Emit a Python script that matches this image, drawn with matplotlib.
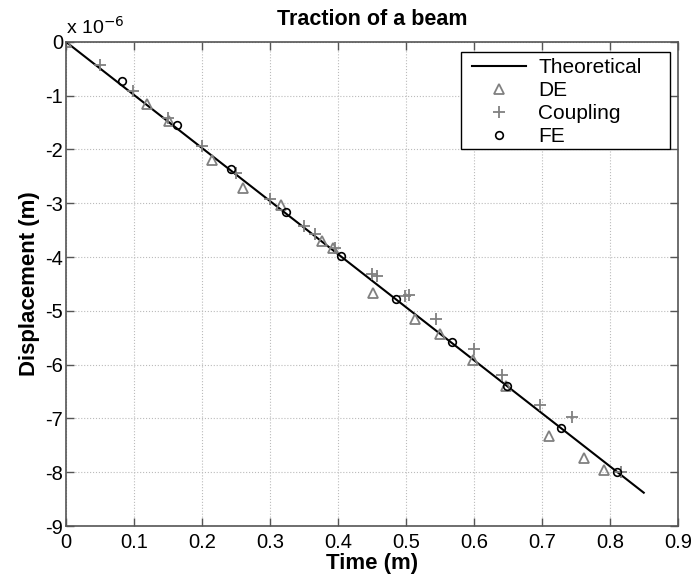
import numpy as np
import matplotlib.pyplot as plt
from matplotlib.patches import Rectangle

plt.rcParams['font.family'] = ['Liberation Sans', 'DejaVu Sans']
plt.rcParams['axes.unicode_minus'] = False

# Theoretical line (displacement in units of 1e-6 m)
theo_x = [0.0, 0.85]
theo_y = [0.0, -8.38]

# DE results
de_x = [0.0, 0.120, 0.152, 0.215, 0.260, 0.316, 0.377, 0.393, 0.452, 0.514,
        0.551, 0.599, 0.648, 0.711, 0.762, 0.792]
de_y = [0.0, -1.16, -1.48, -2.20, -2.71, -3.04, -3.71, -3.83, -4.66, -5.15,
        -5.44, -5.91, -6.39, -7.32, -7.74, -7.95]

# Coupling results
cp_x = [0.050, 0.099, 0.150, 0.200, 0.251, 0.301, 0.350, 0.366, 0.396,
        0.450, 0.457, 0.499, 0.505, 0.545, 0.601, 0.641, 0.697, 0.744, 0.817]
cp_y = [-0.43, -0.92, -1.42, -1.93, -2.43, -2.92, -3.43, -3.57, -3.83,
        -4.31, -4.36, -4.73, -4.70, -5.15, -5.71, -6.20, -6.75, -6.98, -8.00]

# FE results
fe_x = [0.082, 0.163, 0.243, 0.324, 0.404, 0.486, 0.568, 0.649, 0.729, 0.811]
fe_y = [-0.72, -1.55, -2.37, -3.17, -3.98, -4.78, -5.58, -6.39, -7.18, -7.99]

fig = plt.figure(figsize=(6.93, 5.8), dpi=100)
ax = fig.add_axes([0.095, 0.093, 0.883, 0.835])

grey = '#808080'
ax.plot(theo_x, theo_y, color='black', lw=1.5, label='Theoretical')
ax.plot(de_x, de_y, linestyle='none', marker='^', ms=7.5, mfc='none',
        mec=grey, mew=1.3, label='DE')
ax.plot(cp_x, cp_y, linestyle='none', marker='+', ms=9, mec=grey,
        mew=1.3, label='Coupling')
ax.plot(fe_x, fe_y, linestyle='none', marker='o', ms=5.5, mfc='none',
        mec='black', mew=1.2, label='FE')

ax.set_xlim(0, 0.9)
ax.set_ylim(-9, 0)
ax.set_xticks(np.arange(0, 0.91, 0.1))
ax.set_xticklabels(['0', '0.1', '0.2', '0.3', '0.4', '0.5', '0.6', '0.7', '0.8', '0.9'])
ax.set_yticks(np.arange(-9, 1, 1))
ax.tick_params(direction='in', top=True, right=True, length=6,
               labelsize=14.5, color='#555555', width=1)
ax.tick_params(axis='x', pad=5)
ax.tick_params(axis='y', pad=2)
for s in ax.spines.values():
    s.set_color('#555555')
    s.set_linewidth(1.2)
ax.grid(True, linestyle=':', color='#bbbbbb', lw=0.8)

ax.set_xlabel('Time (m)', fontsize=16, fontweight='bold', labelpad=1)
ax.set_ylabel('Displacement (m)', fontsize=16, fontweight='bold', labelpad=4)
ax.set_title('Traction of a beam', fontsize=15.5, fontweight='bold', pad=12)
ax.text(0.0, 1.008, r'x 10$^{-6}$', transform=ax.transAxes, fontsize=14,
        ha='left', va='bottom')

# legend box drawn separately (Matlab-style wide frame)
box = Rectangle((0.645, 0.779), 0.342, 0.200, transform=ax.transAxes,
                facecolor='white', edgecolor='black', lw=1.0, zorder=4)
ax.add_patch(box)
leg = ax.legend(loc='upper left', bbox_to_anchor=(0.653, 0.979), fontsize=15,
                frameon=False, borderpad=0.3, labelspacing=0.19,
                handlelength=2.6, handletextpad=0.6, borderaxespad=0)
leg.set_zorder(5)

fig.savefig('out.png', dpi=100)
